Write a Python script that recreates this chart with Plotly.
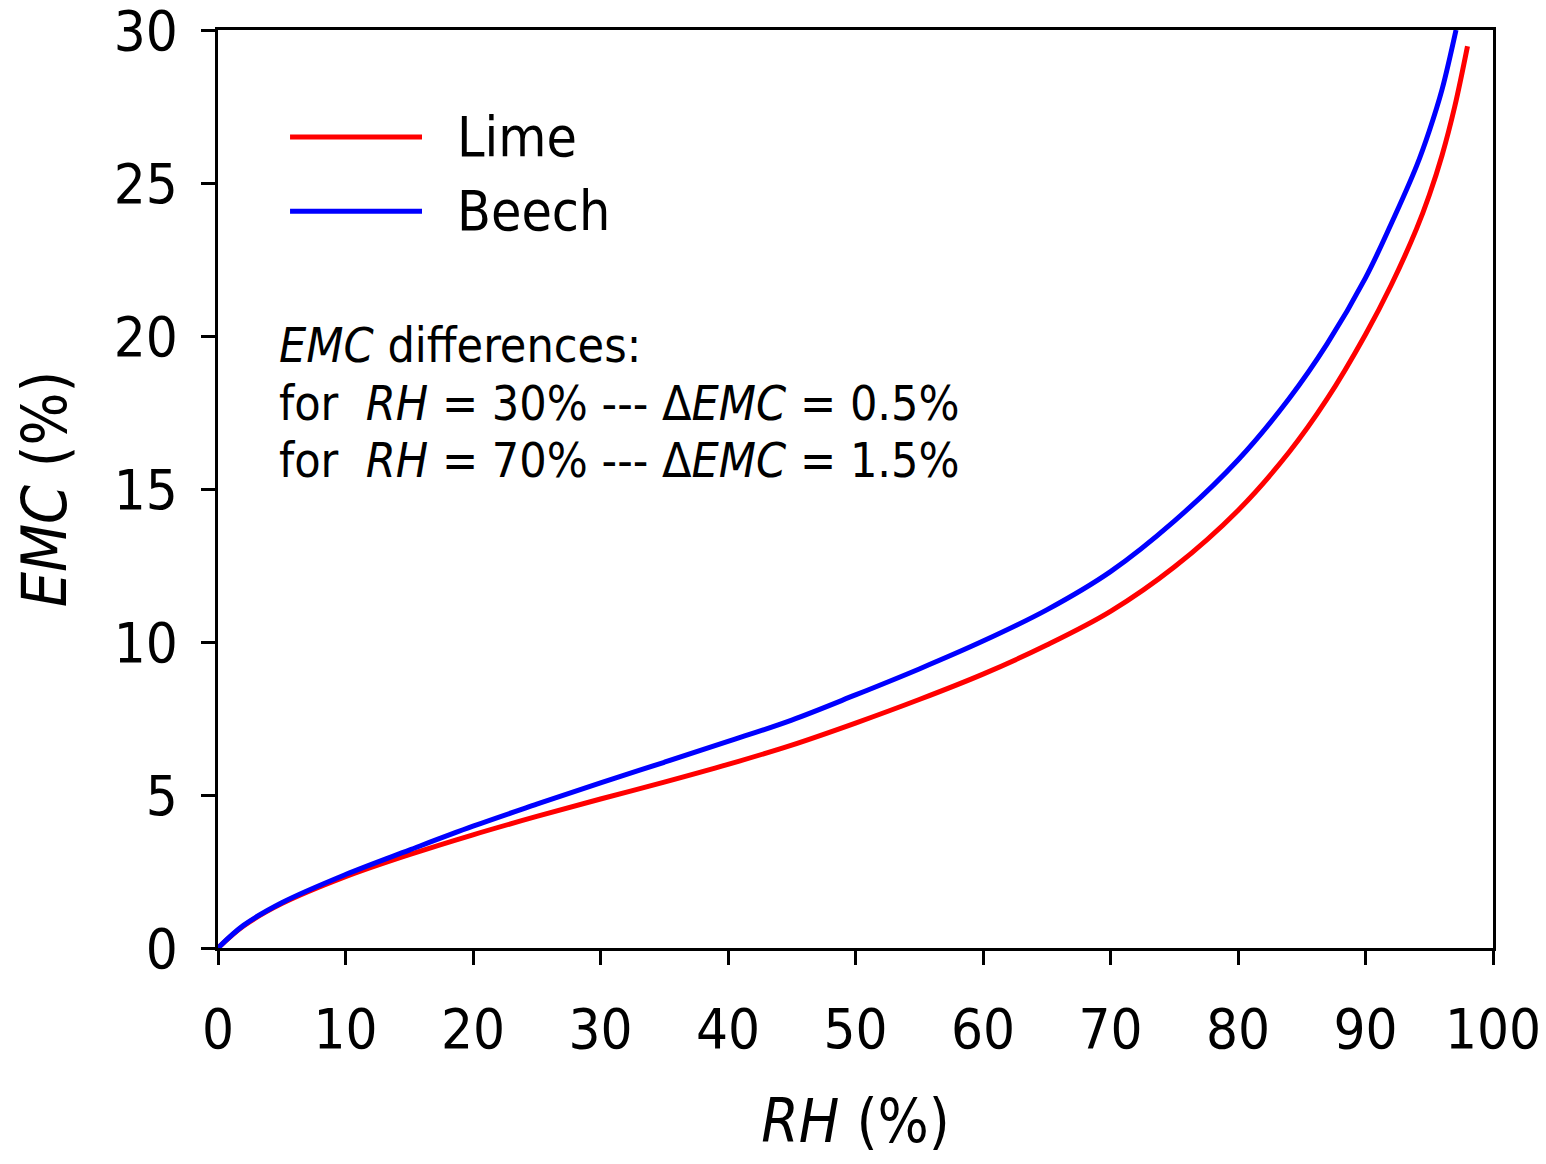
import plotly.graph_objects as go

# Relative humidity (%) and equilibrium moisture content (%)
rh_lime = [0, 2, 5, 10, 15, 20, 25, 30, 35, 40, 45, 50, 55, 60, 65, 70, 75, 80,
           84, 87, 90, 92, 94, 95, 96, 97, 98.0]
emc_lime = [0, 0.72, 1.45, 2.33, 3.05, 3.7, 4.3, 4.87, 5.42, 6.0, 6.63, 7.35, 8.12, 8.95, 9.9, 11.0, 12.45, 14.3,
            16.2, 17.95, 20.05, 21.65, 23.5, 24.6, 25.9, 27.5, 29.47]

rh_beech = [0, 2, 5, 10, 15, 20, 25, 30, 35, 40, 45, 50, 55, 60, 65, 70, 75, 80,
            84, 87, 90, 92, 94, 95, 96, 97.1]
emc_beech = [0, 0.74, 1.48, 2.4, 3.2, 3.98, 4.7, 5.4, 6.07, 6.75, 7.45, 8.27, 9.12, 10.03, 11.05, 12.3, 13.95, 15.95,
             17.95, 19.75, 21.9, 23.65, 25.55, 26.7, 28.05, 30.0]

series_names = ["Lime", "Beech"]
series_colors = ["#ff0000", "#0000ff"]

FONT = "DejaVu Sans Condensed, DejaVu Sans, Liberation Sans, sans-serif"

fig = go.Figure()
fig.add_trace(go.Scatter(x=rh_lime, y=emc_lime, mode="lines", name=series_names[0],
                         line=dict(color=series_colors[0], width=5, shape="spline", smoothing=1.0),
                         showlegend=False))
fig.add_trace(go.Scatter(x=rh_beech, y=emc_beech, mode="lines", name=series_names[1],
                         line=dict(color=series_colors[1], width=5, shape="spline", smoothing=1.0),
                         showlegend=False))

# manual legend (long line samples like the reference)
legend_y = [26.5, 24.08]
for name, col, ly in zip(series_names, series_colors, legend_y):
    fig.add_shape(type="line", xref="x", yref="y", x0=5.65, x1=16.0, y0=ly, y1=ly,
                  line=dict(color=col, width=5))
    fig.add_annotation(x=18.6, y=ly, xref="x", yref="y", text=name, showarrow=False,
                       xanchor="left", yanchor="middle", font=dict(size=55, color="black", family=FONT))

notes = ["<i>EMC</i> differences:",
         "for  <i>RH</i> = 30% --- Δ<i>EMC</i> = 0.5%",
         "for  <i>RH</i> = 70% --- Δ<i>EMC</i> = 1.5%"]
note_y = [19.7, 17.8, 15.95]
for t, ny in zip(notes, note_y):
    fig.add_annotation(x=4.6, y=ny, xref="x", yref="y", text=t, showarrow=False,
                       xanchor="left", yanchor="middle", font=dict(size=48, color="black", family=FONT))

# page body has an 8px margin, so the figure is shifted by 8px; compensate in size/margins
fig.update_layout(
    width=1530, height=1148,
    margin=dict(l=210, r=45, t=22, b=208),
    paper_bgcolor="white", plot_bgcolor="white",
    font=dict(family=FONT, color="black", size=56),
)
fig.update_xaxes(range=[0, 100], tickvals=[0, 10, 20, 30, 40, 50, 60, 70, 80, 90, 100],
                 showgrid=False, zeroline=False, showline=True, linecolor="black", linewidth=3,
                 mirror=True, ticks="outside", ticklen=14, tickwidth=3, tickcolor="black",
                 tickfont=dict(size=56), ticklabelstandoff=16, ticklabeloverflow="allow",
                 automargin=False,
                 title=dict(text="<i>RH</i> (%)", font=dict(size=60), standoff=50))
fig.update_yaxes(range=[0, 30], tickvals=[0, 5, 10, 15, 20, 25, 30],
                 showgrid=False, zeroline=False, showline=True, linecolor="black", linewidth=3,
                 mirror=True, ticks="outside", ticklen=14, tickwidth=3, tickcolor="black",
                 tickfont=dict(size=56), ticklabelstandoff=12, ticklabeloverflow="allow",
                 automargin=False,
                 title=dict(text="<i>EMC</i> (%)", font=dict(size=62), standoff=42))

fig.write_html("out.html")
